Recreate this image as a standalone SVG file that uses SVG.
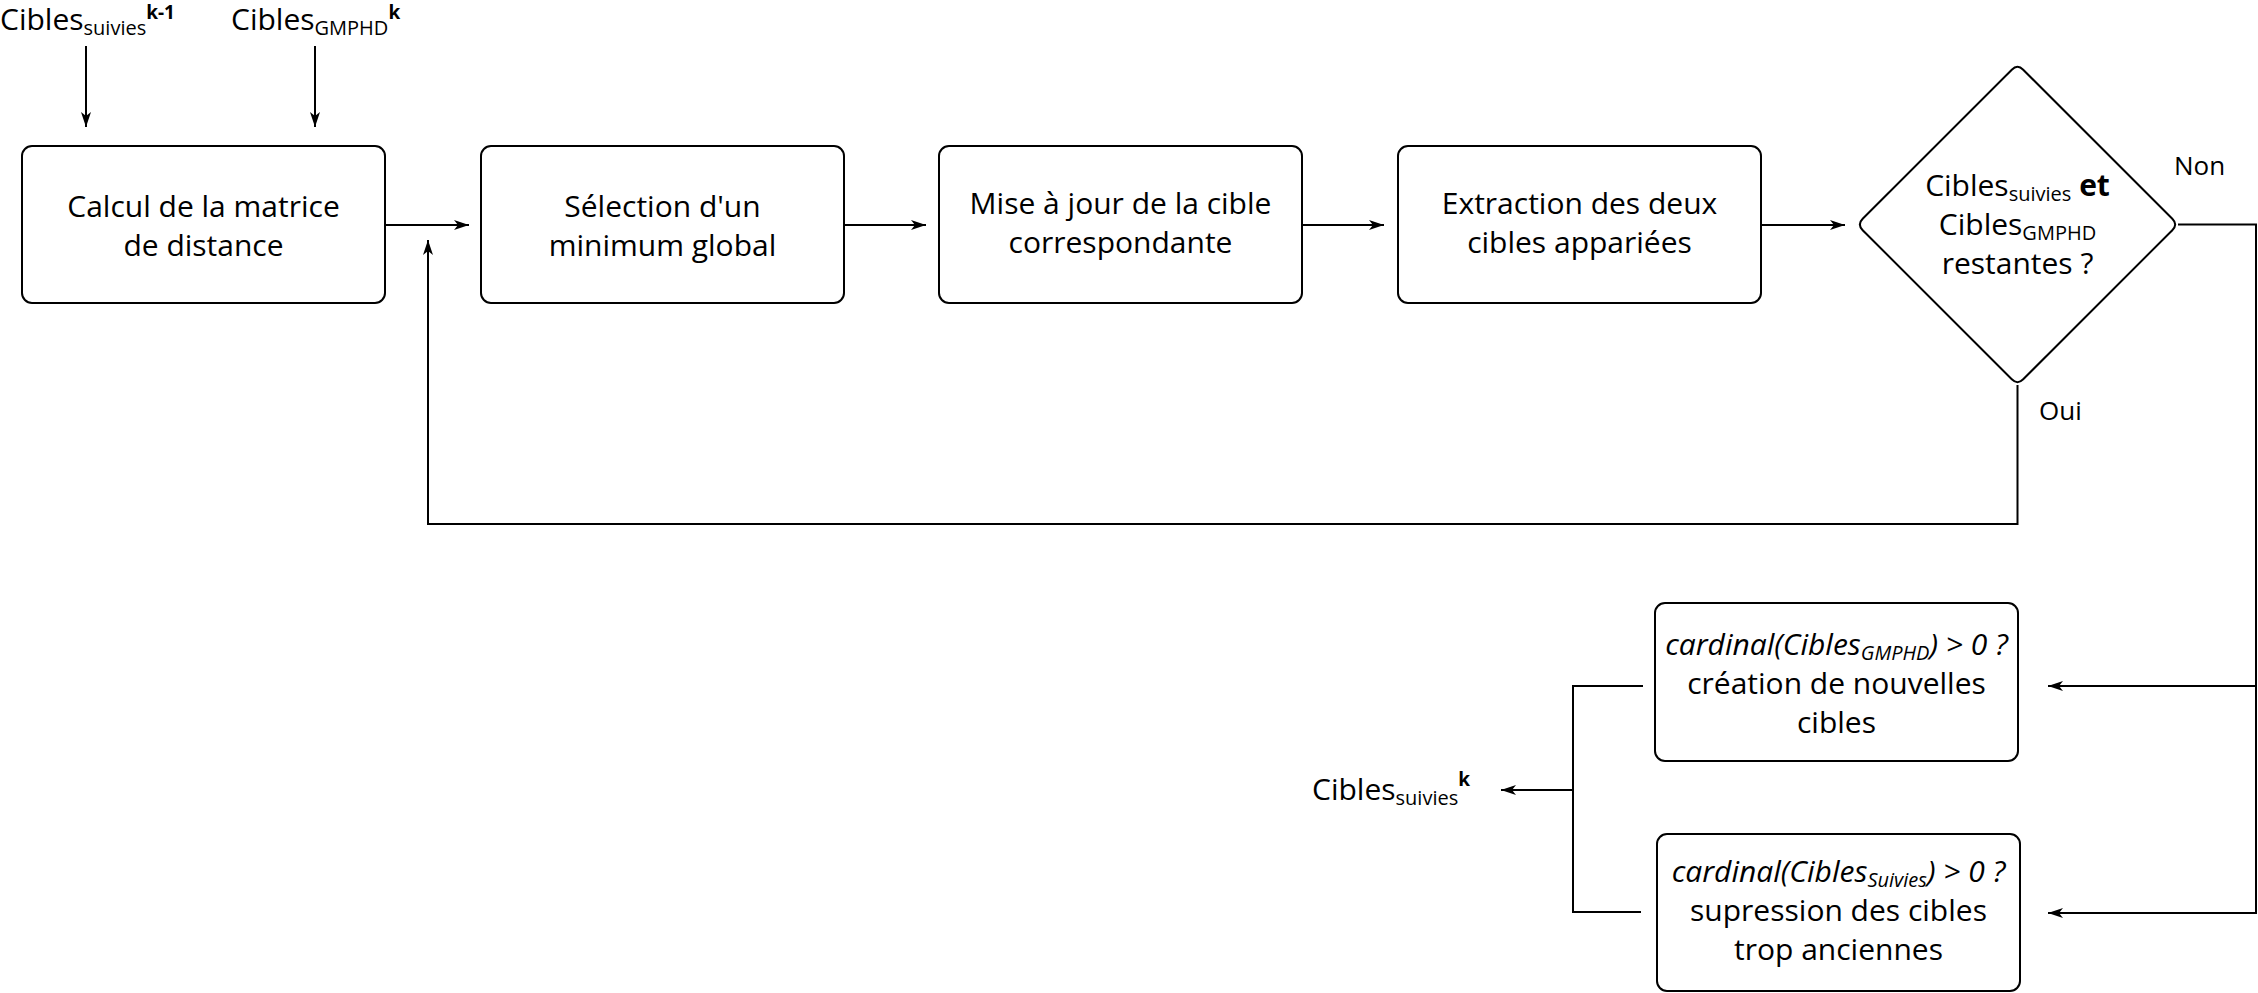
<svg xmlns="http://www.w3.org/2000/svg" width="2258" height="993" viewBox="0 0 2258 993">
<style>
text{font-family:"Open Sans","Liberation Sans",sans-serif;font-size:30px;fill:#000}
.c{text-anchor:middle}
.sub{font-size:20px}
.sup{font-size:19px;font-weight:bold}
.lbl{font-size:26px}
.box{fill:#fff;stroke:#000;stroke-width:2}
.edge{fill:none;stroke:#000;stroke-width:2}
</style>
<defs>
<marker id="arr" markerUnits="userSpaceOnUse" markerWidth="16" markerHeight="12" viewBox="0 0 16 12" refX="15" refY="6" orient="auto">
<path d="M0,1 L15,6 L0,11 L4,6 Z" fill="#000"/>
</marker>
</defs>
<rect width="2258" height="993" fill="#fff"/>

<g id="in-suivies">
<text x="0" y="30">Cibles<tspan class="sub" dy="5">suivies</tspan><tspan class="sup" dy="-16">k-1</tspan></text>
</g>
<g id="in-gmphd">
<text x="231" y="30">Cibles<tspan class="sub" dy="5">GMPHD</tspan><tspan class="sup" dy="-16">k</tspan></text>
</g>

<g id="n1">
<rect class="box" x="22" y="146" width="363" height="157" rx="10"/>
<text class="c" x="203.5" y="217">Calcul de la matrice</text>
<text class="c" x="203.5" y="256">de distance</text>
</g>
<g id="n2">
<rect class="box" x="481" y="146" width="363" height="157" rx="10"/>
<text class="c" x="662.5" y="217">Sélection d'un</text>
<text class="c" x="662.5" y="256">minimum global</text>
</g>
<g id="n3">
<rect class="box" x="939" y="146" width="363" height="157" rx="10"/>
<text class="c" x="1120.5" y="214">Mise à jour de la cible</text>
<text class="c" x="1120.5" y="253">correspondante</text>
</g>
<g id="n4">
<rect class="box" x="1398" y="146" width="363" height="157" rx="10"/>
<text class="c" x="1579.5" y="214">Extraction des deux</text>
<text class="c" x="1579.5" y="253">cibles appariées</text>
</g>
<g id="decision">
<path class="box" d="M2011.8,69.7 Q2017.5,64 2023.2,69.7 L2172.3,218.8 Q2178,224.5 2172.3,230.2 L2023.2,379.3 Q2017.5,385 2011.8,379.3 L1862.7,230.2 Q1857,224.5 1862.7,218.8 Z"/>
<text class="c" x="2017.5" y="196">Cibles<tspan class="sub" dy="5">suivies</tspan><tspan dy="-5"> </tspan><tspan font-weight="bold">et</tspan></text>
<text class="c" x="2017.5" y="235">Cibles<tspan class="sub" dy="5">GMPHD</tspan></text>
<text class="c" x="2017.5" y="274">restantes ?</text>
</g>
<g id="n5">
<rect class="box" x="1655" y="603" width="363" height="158" rx="10"/>
<text class="c" x="1836.5" y="655"><tspan font-style="italic">cardinal(Cibles<tspan class="sub" dy="5">GMPHD</tspan><tspan dy="-5">) &gt; 0 ?</tspan></tspan></text>
<text class="c" x="1836.5" y="694">création de nouvelles</text>
<text class="c" x="1836.5" y="733">cibles</text>
</g>
<g id="n6">
<rect class="box" x="1657" y="834" width="363" height="157" rx="10"/>
<text class="c" x="1838.5" y="882"><tspan font-style="italic">cardinal(Cibles<tspan class="sub" dy="5">Suivies</tspan><tspan dy="-5">) &gt; 0 ?</tspan></tspan></text>
<text class="c" x="1838.5" y="921">supression des cibles</text>
<text class="c" x="1838.5" y="960">trop anciennes</text>
</g>
<g id="out">
<text x="1312" y="800">Cibles<tspan class="sub" dy="5">suivies</tspan><tspan class="sup" dy="-19">k</tspan></text>
</g>

<g id="connectors">
<path class="edge" d="M86,46 V127" marker-end="url(#arr)"/>
<path class="edge" d="M315,46 V127" marker-end="url(#arr)"/>
<path class="edge" d="M385,225 H469" marker-end="url(#arr)"/>
<path class="edge" d="M844,225 H926" marker-end="url(#arr)"/>
<path class="edge" d="M1302,225 H1384" marker-end="url(#arr)"/>
<path class="edge" d="M1761,225 H1845" marker-end="url(#arr)"/>
<path class="edge" d="M2017.5,385 V524 H428 V240" marker-end="url(#arr)"/>
<path class="edge" d="M2178,224.5 H2256 V686 H2048" marker-end="url(#arr)"/>
<path class="edge" d="M2256,686 V913 H2048" marker-end="url(#arr)"/>
<path class="edge" d="M1643,686 H1573 V912 H1641"/>
<path class="edge" d="M1573,790 H1501" marker-end="url(#arr)"/>
<text class="lbl" x="2174" y="175">Non</text>
<text class="lbl" x="2039" y="420">Oui</text>
</g>
</svg>
